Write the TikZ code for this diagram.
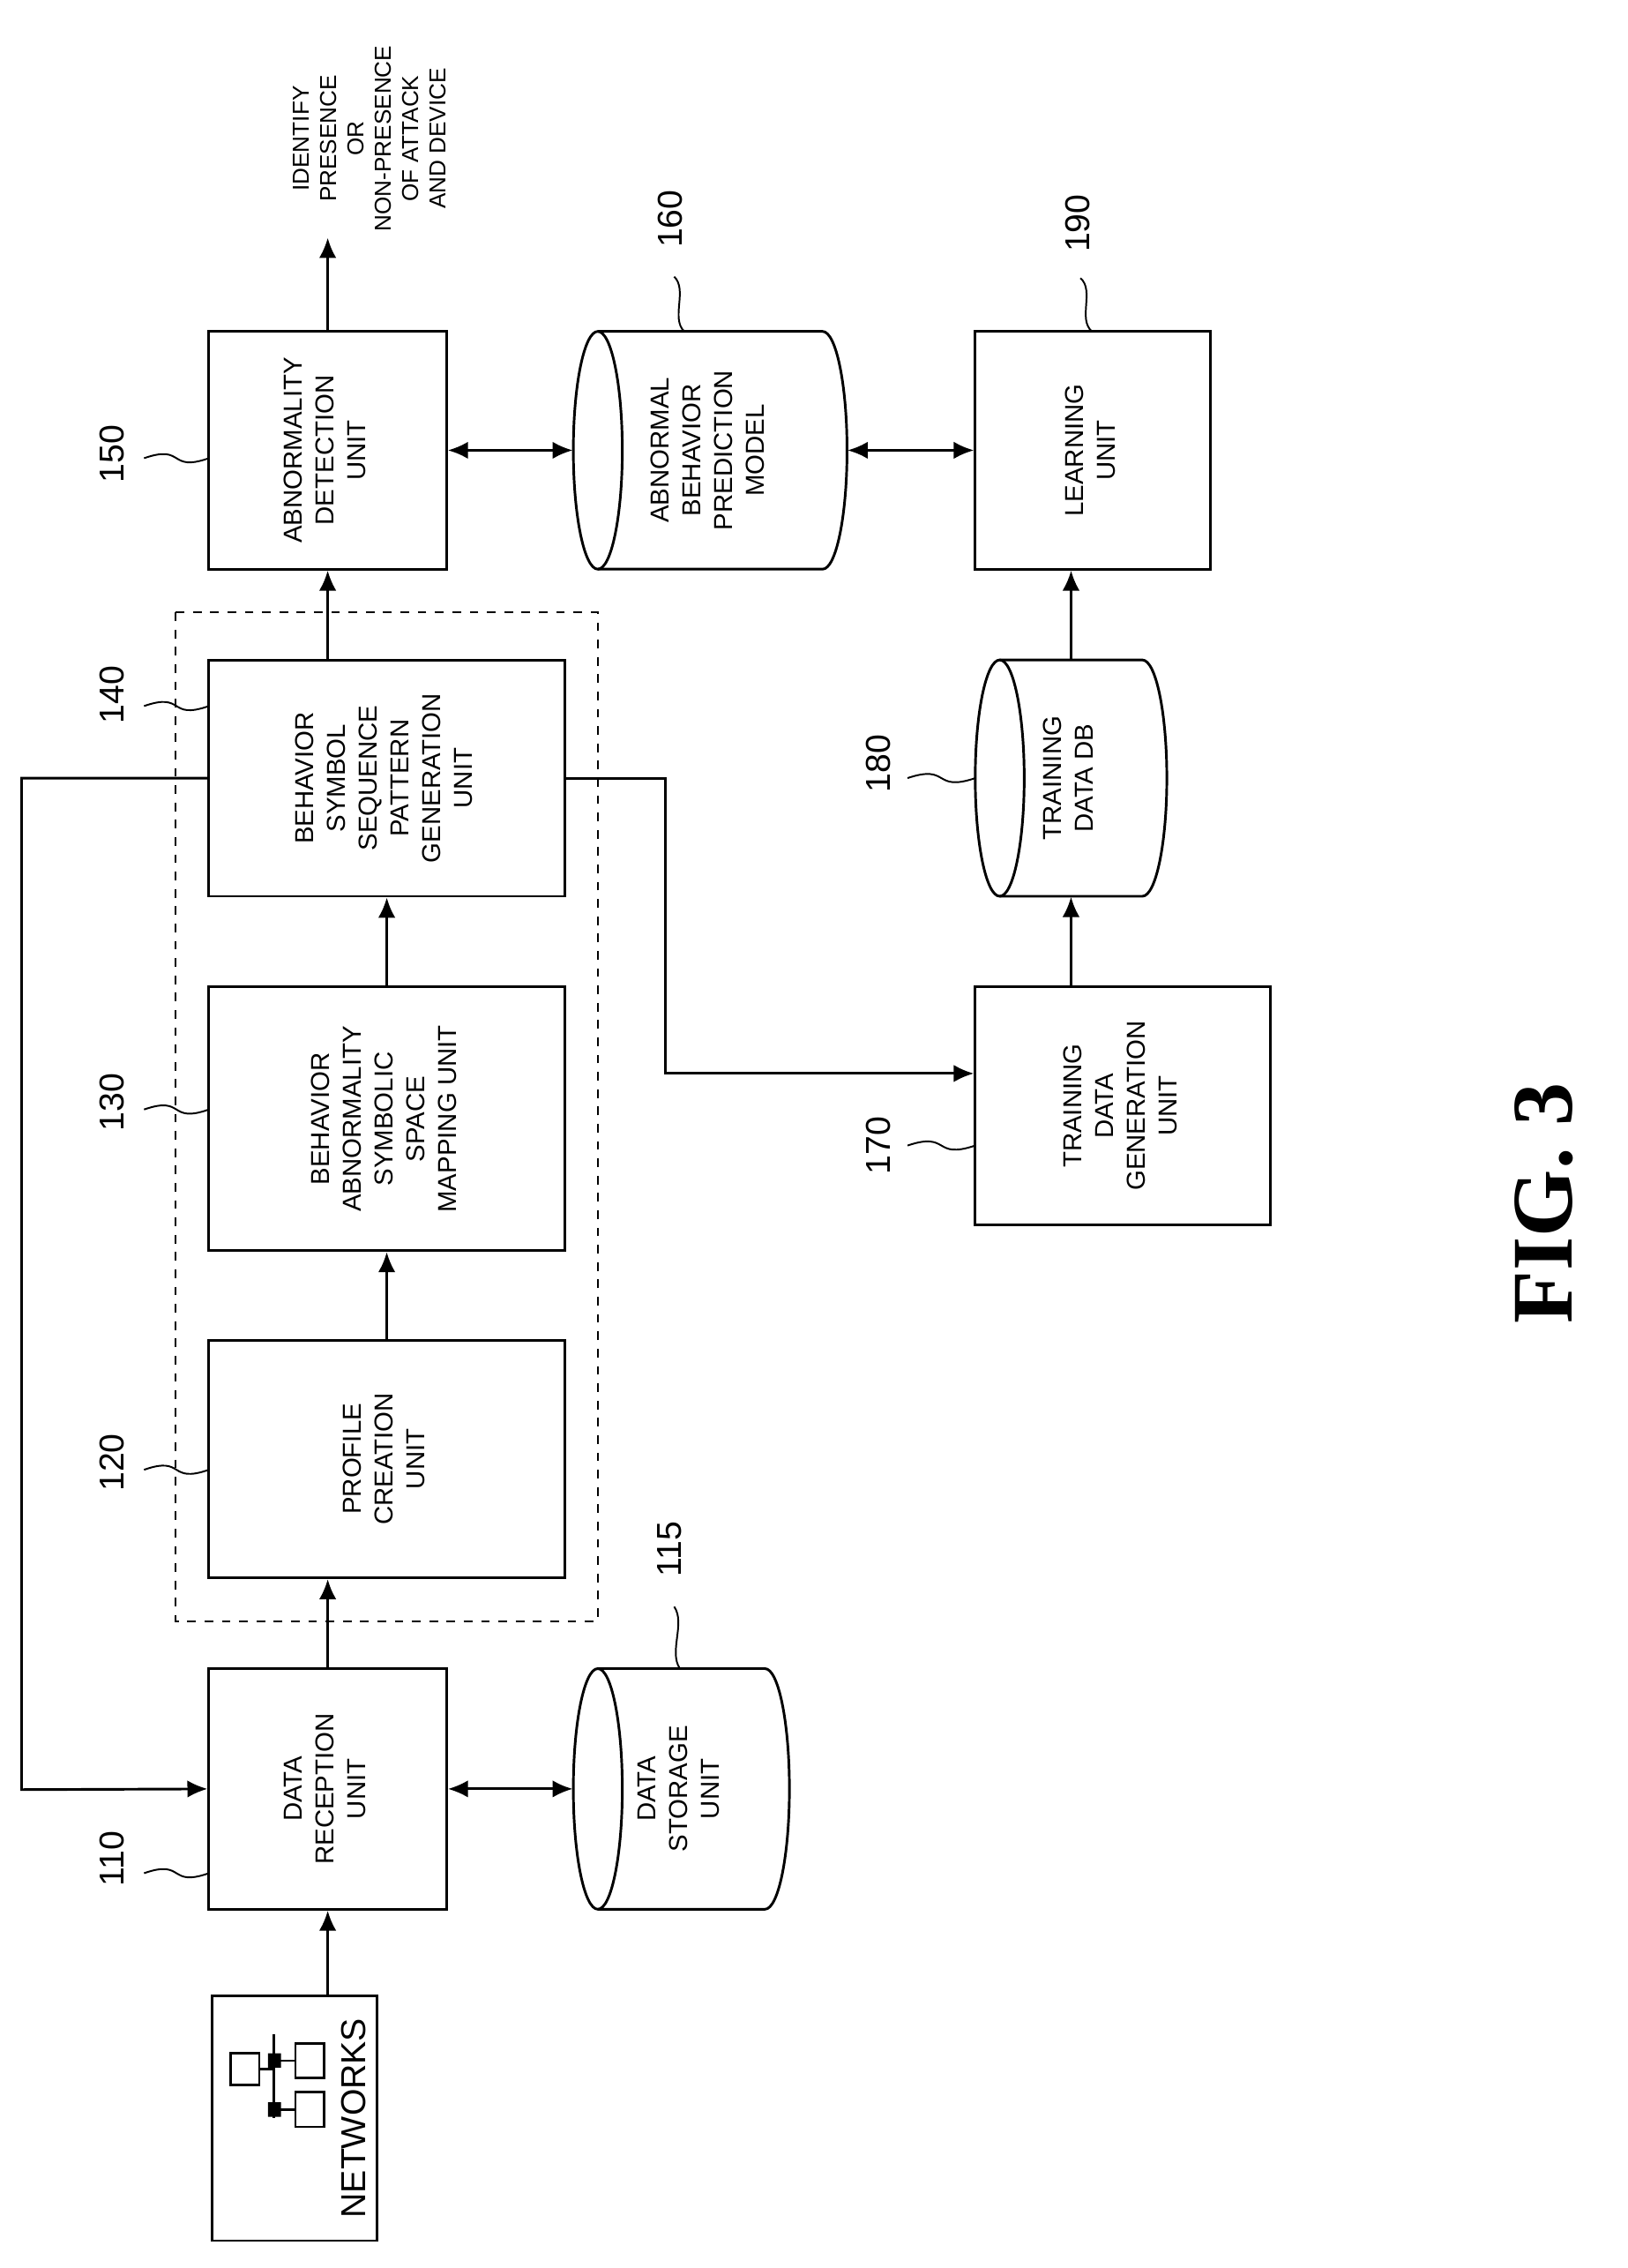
\documentclass[tikz,border=0pt]{standalone}
\usepackage{fontspec}
\setmainfont{Liberation Sans}
\newfontfamily\figfont{Liberation Serif}
\usetikzlibrary{arrows.meta, positioning, calc}
\newcommand{\vtext}[1]{\rotatebox{90}{\begin{tabular}{@{}c@{}}#1\end{tabular}}}

\begin{document}
\begin{tikzpicture}[
    x=0.5pt, y=-0.5pt,
    box/.style={draw, line width=0.9pt, align=center, font=\small, inner sep=0pt},
    db/.style={inner sep=0pt, font=\small},
    arrow/.style={-{Latex[length=7pt,width=6pt]}, line width=0.9pt},
    biarrow/.style={{Latex[length=7pt,width=6pt]}-{Latex[length=7pt,width=6pt]}, line width=0.9pt}
]
    \useasboundingbox (0,0) rectangle (1130,1574);
    % boxes
    \node[box, minimum width=57.5pt, minimum height=85pt] (net) at (204.5,1470) {};
    \node[font=\large, inner sep=0pt] (nettxt) at (248,1470) {\vtext{NETWORKS}};
    \node[box, minimum width=82.5pt, minimum height=83.5pt] (recv) at (227.5,1241.5) {\vtext{DATA\\RECEPTION\\UNIT}};
    \node[db, minimum width=75pt, minimum height=83.5pt] (store) at (473,1241.5) {\vtext{DATA\\STORAGE\\UNIT}};
    \draw[dashed, line width=0.6pt] (122,425) rectangle (415,1125);
    \node[box, minimum width=123.5pt, minimum height=82.5pt] (profile) at (268.5,1012.5) {\vtext{PROFILE\\CREATION\\UNIT}};
    \node[box, minimum width=123.5pt, minimum height=91.5pt] (mapping) at (268.5,776.5) {\vtext{BEHAVIOR\\ABNORMALITY\\SYMBOLIC\\SPACE\\MAPPING UNIT}};
    \node[box, minimum width=123.5pt, minimum height=82pt] (pattern) at (268.5,540) {\vtext{BEHAVIOR\\SYMBOL\\SEQUENCE\\PATTERN\\GENERATION\\UNIT}};
    \node[box, minimum width=82.5pt, minimum height=82.5pt] (detect) at (227.5,312.5) {\vtext{ABNORMALITY\\DETECTION\\UNIT}};
    \node[db, minimum width=95pt, minimum height=82.5pt] (model) at (493,312.5) {\vtext{ABNORMAL\\BEHAVIOR\\PREDICTION\\MODEL}};
    \node[box, minimum width=81.5pt, minimum height=82.5pt] (learn) at (758.5,312.5) {\vtext{LEARNING\\UNIT}};
    \node[db, minimum width=66.5pt, minimum height=82pt] (train) at (743.5,540) {\vtext{TRAINING\\DATA DB}};
    \node[box, minimum width=102.5pt, minimum height=82.5pt] (gen) at (779.5,767.5) {\vtext{TRAINING\\DATA\\GENERATION\\UNIT}};
    \node[anchor=south, font=\footnotesize, inner sep=2pt] (result) at (258,165) {\vtext{IDENTIFY\\PRESENCE\\OR\\NON-PRESENCE\\OF ATTACK\\AND DEVICE}};
    \node[font=\figfont\bfseries\fontsize{30}{32}\selectfont] (fig) at (1072,835) {\rotatebox{90}{FIG. 3}};
    % cylinders: x1/y1/x2/y2
    \foreach \xa/\ya/\xb/\yb in {398/1158/548/1325, 398/230/588/395, 677/458/810/622}
    {
        \draw[line width=0.9pt] ({\xa+17},{(\ya+\yb)/2}) ellipse [x radius=17, y radius={(\yb-\ya)/2}];
        \draw[line width=0.9pt] ({\xa+17},\ya) -- ({\xb-17},\ya)
            arc [start angle=-90, end angle=90, x radius=17, y radius={(\yb-\ya)/2}] -- ({\xa+17},\yb);
    }
    % network icon
    \draw[line width=0.8pt] (160,1425) rectangle (180,1447) (205,1418) rectangle (225,1442)
        (205,1452) rectangle (225,1476);
    \draw[line width=0.8pt] (180,1436) -- (190,1436) (190,1412) -- (190,1470) (190,1430) -- (205,1430) (190,1464) -- (205,1464);
    \fill (186,1425) rectangle (195,1435) (186,1459) rectangle (195,1469);
    % connectors
    \draw[arrow] (recv.south |- net.north) -- (recv.south);
    \draw[biarrow] (recv) -- (store);
    \draw[arrow] (recv.north) -- (recv.north |- profile.south);
    \draw[arrow] (profile) -- (mapping);
    \draw[arrow] (mapping) -- (pattern);
    \draw[arrow] (pattern.north -| detect) -- (detect);
    \draw[arrow] (detect.north) -- (detect.north |- result.south);
    \draw[biarrow] (detect) -- (model);
    \draw[biarrow] (model) -- (learn);
    \draw[arrow] (gen.north -| train) -- (train);
    \draw[arrow] (train) -- (learn.south -| train);
    \draw[arrow] (pattern.east) -- (462,540) -- (462,745) -- (gen.west |- 0,745);
    \draw[arrow] (pattern.west) -- (15,540) -- (15,1242) -- (recv.west);
    % reference numerals
    \foreach \num/\nx/\ny/\ax/\ay/\bx/\by in {110/78/1290/100/1300/145/1300, 120/78/1015/100/1020/145/1020,
        130/78/765/100/770/145/770, 140/78/482/100/490/145/490, 150/78/315/100/318/145/318,
        115/465/1075/468/1115/472/1158, 160/465/152/468/192/475/230, 190/748/155/750/193/758/230,
        180/610/530/630/540/677/540, 170/610/795/630/795/677/795}
    {
        \node[font=\large] (n\num) at (\nx,\ny) {\rotatebox{90}{\num}};
        \draw[line width=0.6pt] (\ax,\ay) .. controls ($(\ax,\ay)!0.5!(\bx,\by)+(6,-10)$) and ($(\ax,\ay)!0.5!(\bx,\by)+(-6,10)$) .. (\bx,\by);
    }
\end{tikzpicture}
\end{document}
